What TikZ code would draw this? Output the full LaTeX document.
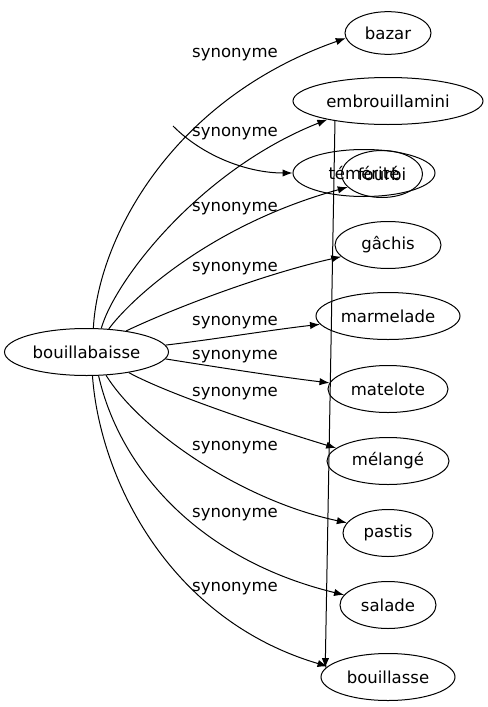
\documentclass[tikz,border=0pt]{standalone}
\usepackage{fontspec}
\setmainfont{DejaVu Sans}
\usetikzlibrary{arrows.meta,shapes.geometric}
\tikzset{
  word/.style={ellipse,draw,line width=0.75pt,inner sep=0pt,
    minimum height=35.25pt,font=\fontsize{12.4}{14}\selectfont},
  tag/.style={inner sep=0pt,font=\fontsize{12.4}{14}\selectfont},
  arrow/.style={-{Latex[length=7.5pt,width=5.5pt]},line width=0.75pt}
}
\begin{document}
\begin{tikzpicture}[x=0.75pt,y=-0.75pt]
  \useasboundingbox (0,0) rectangle (488,707);
  % words
  \node[word,minimum width=123pt] (bouillabaisse) at (86.5,352) {bouillabaisse};
  \node[word,minimum width=64.5pt,minimum height=32pt] (bazar) at (388,33) {bazar};
  \node[word,minimum width=142.5pt] (embrouillamini) at (388,101) {embrouillamini};
  \node[word,minimum width=106.5pt] (temerite) at (364,173) {témérité};
  \node[word,minimum width=60.75pt] (fourbi) at (382,174) {fourbi};
  \node[word,minimum width=79.5pt] (gachis) at (388,245) {gâchis};
  \node[word,minimum width=108pt] (marmelade) at (388,316) {marmelade};
  \node[word,minimum width=90pt] (matelote) at (388,389) {matelote};
  \node[word,minimum width=91.5pt] (melange) at (388,461) {mélangé};
  \node[word,minimum width=67.5pt] (pastis) at (388,533) {pastis};
  \node[word,minimum width=72pt] (salade) at (388,605) {salade};
  \node[word,minimum width=100.5pt] (bouillasse) at (388,677) {bouillasse};
  % edge labels
  \foreach \n/\y in {1/55,2/133.5,3/209,4/269,5/322.5,6/357,7/394,8/448,9/515,10/588.5}
    \node[tag] (syn\n) at (235,\y) {synonyme};
  % edges
  \draw[arrow] (bouillabaisse.74) .. controls (98,240) and (170,100) .. (bazar.187);
  \draw[arrow] (bouillabaisse.58) .. controls (115,280) and (200,170) .. (embrouillamini.197);
  \draw[arrow] (bouillabaisse.46) .. controls (130,300) and (210,225) .. (fourbi.201);
  \draw[arrow] (bouillabaisse.28) .. controls (170,310) and (260,275) .. (gachis.194);
  \draw[arrow] (bouillabaisse.5) .. controls (210,340) and (270,330) .. (marmelade.187);
  \draw[arrow] (bouillabaisse.-5) .. controls (210,366) and (280,377) .. (matelote.174);
  \draw[arrow] (bouillabaisse.-26) .. controls (170,395) and (270,428) .. (melange.166);
  \draw[arrow] (bouillabaisse.-50) .. controls (140,430) and (240,500) .. (pastis.166);
  \draw[arrow] (bouillabaisse.-63) .. controls (120,470) and (200,560) .. (salade.167);
  \draw[arrow] (bouillabaisse.-76) .. controls (100,480) and (170,620) .. (bouillasse.170);
  % stray edges
  \coordinate (from1) at (173,126);
  \coordinate (from2) at (335,120);
  \draw[arrow] (from1) .. controls (205,158) and (250,173) .. (temerite.180);
  \draw[arrow] (from2) -- (bouillasse.172);
\end{tikzpicture}
\end{document}
